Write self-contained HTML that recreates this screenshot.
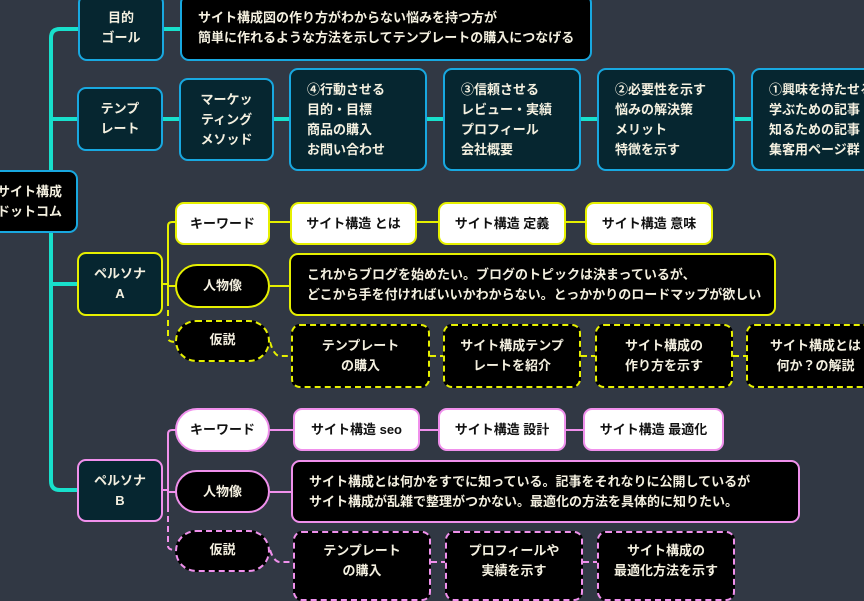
<!DOCTYPE html>
<html><head><meta charset="utf-8"><style>
html,body{margin:0;padding:0}
body{width:864px;height:589px;background:#313844;position:relative;overflow:hidden;font-family:"Liberation Sans","Noto Sans CJK JP",sans-serif;font-weight:bold;font-size:13px;color:#f4f0e0}
.b{position:absolute;box-sizing:border-box;display:flex;align-items:center;justify-content:center;text-align:center;line-height:20px;border-radius:9px;background:#000}
.c{border:2px solid #18a8e0}
.d{background:#062630}
.y{border:2px solid #e6f000}
.p{border:2px solid #f090ec}
.yd{border:2px dashed #e6f000}
.pd{border:2px dashed #f090ec}
.w{background:#fff;color:#111}
.pill{border-radius:22px}
.l{justify-content:flex-start;text-align:left;padding-left:16px}
svg{position:absolute;left:0;top:0}
</style></head><body>
<svg width="864" height="589">
<g fill="none" stroke="#18e0cc" stroke-width="4">
<path d="M78 29 H60 Q51 29 51 38 V481 Q51 490 60 490 H78"/>
<path d="M51 119 H78 M51 284 H78"/>
<path d="M163 119 H180 M274 119 H290 M427 119 H444 M581 119 H598 M735 119 H752 M164 29 H181"/>
</g>
<g fill="none" stroke="#e6f000" stroke-width="2">
<path d="M163 284 H168 M176 222 H172 Q168 222 168 226 V300 M168 286 H176 M270 222 H290 M417 222 H438 M566 222 H585 M270 286 H290"/>
<path d="M168 300 V338 Q168 342 176 342 M270 342 Q274 356 280 356 H292 M430 356 H443 M581 356 H595 M733 356 H746" stroke-dasharray="6 4"/>
</g>
<g fill="none" stroke="#f090ec" stroke-width="2">
<path d="M163 490 H168 M176 430 H172 Q168 430 168 434 V506 M168 492 H176 M270 430 H293 M420 430 H438 M566 430 H583 M270 492 H291"/>
<path d="M168 506 V546 Q168 550 176 550 M270 550 Q274 562 280 562 H294 M431 562 H445 M583 562 H597" stroke-dasharray="6 4"/>
</g>
</svg>

<div class="b c" style="left:-20px;top:170px;width:98px;height:63px;justify-content:flex-end;padding-right:14px">サイト構成<br>ドットコム</div>

<div class="b c d" style="left:78px;top:-6px;width:86px;height:67px">目的<br>ゴール</div>
<div class="b c l" style="left:180px;top:-6px;width:412px;height:67px">サイト構成図の作り方がわからない悩みを持つ方が<br>簡単に作れるような方法を示してテンプレートの購入につなげる</div>

<div class="b c d" style="left:77px;top:87px;width:86px;height:64px">テンプ<br>レート</div>
<div class="b c d" style="left:179px;top:78px;width:95px;height:83px">マーケッ<br>ティング<br>メソッド</div>
<div class="b c d l" style="left:289px;top:68px;width:138px;height:103px">④行動させる<br>目的・目標<br>商品の購入<br>お問い合わせ</div>
<div class="b c d l" style="left:443px;top:68px;width:138px;height:103px">③信頼させる<br>レビュー・実績<br>プロフィール<br>会社概要</div>
<div class="b c d l" style="left:597px;top:68px;width:138px;height:103px">②必要性を示す<br>悩みの解決策<br>メリット<br>特徴を示す</div>
<div class="b c d l" style="left:751px;top:68px;width:140px;height:103px">①興味を持たせる<br>学ぶための記事<br>知るための記事<br>集客用ページ群</div>

<div class="b y d" style="left:77px;top:252px;width:86px;height:64px">ペルソナ<br>A</div>
<div class="b y w" style="left:175px;top:202px;width:95px;height:43px">キーワード</div>
<div class="b y w" style="left:290px;top:202px;width:127px;height:43px">サイト構造 とは</div>
<div class="b y w" style="left:438px;top:202px;width:128px;height:43px">サイト構造 定義</div>
<div class="b y w" style="left:585px;top:202px;width:128px;height:43px">サイト構造 意味</div>
<div class="b y pill" style="left:175px;top:264px;width:95px;height:44px">人物像</div>
<div class="b y l" style="left:289px;top:253px;width:487px;height:63px">これからブログを始めたい。ブログのトピックは決まっているが、<br>どこから手を付ければいいかわからない。とっかかりのロードマップが欲しい</div>
<div class="b yd pill" style="left:175px;top:320px;width:95px;height:42px;align-items:flex-start;padding-top:8px">仮説</div>
<div class="b yd" style="left:291px;top:324px;width:139px;height:64px">テンプレート<br>の購入</div>
<div class="b yd" style="left:443px;top:324px;width:138px;height:64px">サイト構成テンプ<br>レートを紹介</div>
<div class="b yd" style="left:595px;top:324px;width:138px;height:64px">サイト構成の<br>作り方を示す</div>
<div class="b yd" style="left:746px;top:324px;width:140px;height:64px;justify-content:flex-start;padding-left:22px">サイト構成とは<br>何か？の解説</div>

<div class="b p d" style="left:77px;top:459px;width:86px;height:63px">ペルソナ<br>B</div>
<div class="b p w pill" style="left:175px;top:408px;width:95px;height:44px">キーワード</div>
<div class="b p w" style="left:293px;top:408px;width:127px;height:43px">サイト構造 seo</div>
<div class="b p w" style="left:438px;top:408px;width:128px;height:43px">サイト構造 設計</div>
<div class="b p w" style="left:583px;top:408px;width:141px;height:43px">サイト構造 最適化</div>
<div class="b p pill" style="left:175px;top:470px;width:95px;height:43px">人物像</div>
<div class="b p l" style="left:291px;top:460px;width:509px;height:63px">サイト構成とは何かをすでに知っている。記事をそれなりに公開しているが<br>サイト構成が乱雑で整理がつかない。最適化の方法を具体的に知りたい。</div>
<div class="b pd pill" style="left:175px;top:530px;width:95px;height:42px;align-items:flex-start;padding-top:8px">仮説</div>
<div class="b pd" style="left:293px;top:531px;width:138px;height:70px;align-items:flex-start;padding-top:8px">テンプレート<br>の購入</div>
<div class="b pd" style="left:445px;top:531px;width:138px;height:70px;align-items:flex-start;padding-top:8px">プロフィールや<br>実績を示す</div>
<div class="b pd" style="left:597px;top:531px;width:138px;height:70px;align-items:flex-start;padding-top:8px">サイト構成の<br>最適化方法を示す</div>
</body></html>
